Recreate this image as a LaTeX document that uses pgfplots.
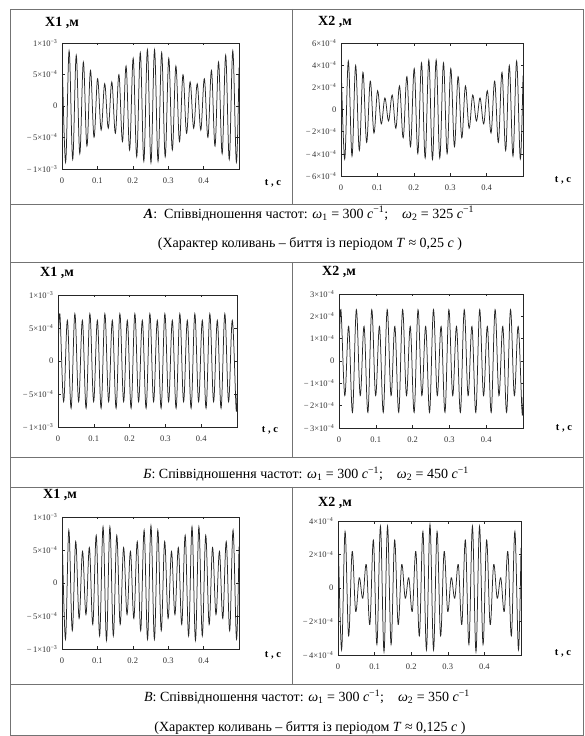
\documentclass[border=0pt]{standalone}
\usepackage{fontspec}
\setmainfont{Liberation Serif}
\usepackage{pgfplots}
\pgfplotsset{compat=1.18}
\usepackage{pgfplotstable}

% values of X1, X2 in units of 1e-4 m (extrema of the oscillations)
\pgfplotstableread{
t x1 x2
0.0000 9.00 4.50
0.0101 -8.94 -4.47
0.0201 8.76 4.37
0.0302 -8.47 -4.20
0.0402 8.06 3.97
0.0503 -7.57 -3.69
0.0603 6.98 3.35
0.0704 -6.34 -2.97
0.0804 5.65 2.56
0.0905 -4.97 -2.12
0.1005 4.33 1.69
0.1106 -3.82 -1.30
0.1206 3.53 1.04
0.1307 -3.53 -1.04
0.1407 3.82 1.30
0.1508 -4.33 -1.69
0.1608 4.97 2.12
0.1709 -5.65 -2.56
0.1810 6.34 2.97
0.1910 -6.98 -3.35
0.2011 7.57 3.69
0.2111 -8.06 -3.97
0.2212 8.47 4.20
0.2312 -8.76 -4.37
0.2413 8.94 4.47
0.2513 -9.00 -4.50
0.2614 8.94 4.47
0.2714 -8.76 -4.37
0.2815 8.47 4.20
0.2915 -8.06 -3.97
0.3016 7.57 3.69
0.3116 -6.98 -3.35
0.3217 6.34 2.97
0.3318 -5.65 -2.56
0.3418 4.97 2.12
0.3519 -4.33 -1.69
0.3619 3.82 1.30
0.3720 -3.53 -1.04
0.3820 3.53 1.04
0.3921 -3.82 -1.30
0.4021 4.33 1.69
0.4122 -4.97 -2.12
0.4222 5.65 2.56
0.4323 -6.34 -2.97
0.4423 6.98 3.35
0.4524 -7.57 -3.69
0.4624 8.06 3.97
0.4725 -8.47 -4.20
0.4825 8.76 4.37
0.4926 -8.94 -4.47
0.5000 6.10 3.06
}\tabA

\pgfplotstableread{
t x1 x2
0.0000 0.00 0.00
0.0052 7.15 2.30
0.0157 -6.15 -1.55
0.0262 6.15 1.55
0.0366 -7.15 -2.30
0.0471 7.15 2.30
0.0576 -6.15 -1.55
0.0681 6.15 1.55
0.0785 -7.15 -2.30
0.0890 7.15 2.30
0.0995 -6.15 -1.55
0.1100 6.15 1.55
0.1204 -7.15 -2.30
0.1309 7.15 2.30
0.1414 -6.15 -1.55
0.1518 6.15 1.55
0.1623 -7.15 -2.30
0.1728 7.15 2.30
0.1833 -6.15 -1.55
0.1937 6.15 1.55
0.2042 -7.15 -2.30
0.2147 7.15 2.30
0.2251 -6.15 -1.55
0.2356 6.15 1.55
0.2461 -7.15 -2.30
0.2566 7.15 2.30
0.2670 -6.15 -1.55
0.2775 6.15 1.55
0.2880 -7.15 -2.30
0.2985 7.15 2.30
0.3089 -6.15 -1.55
0.3194 6.15 1.55
0.3299 -7.15 -2.30
0.3403 7.15 2.30
0.3508 -6.15 -1.55
0.3613 6.15 1.55
0.3718 -7.15 -2.30
0.3822 7.15 2.30
0.3927 -6.15 -1.55
0.4032 6.15 1.55
0.4136 -7.15 -2.30
0.4241 7.15 2.30
0.4346 -6.15 -1.55
0.4451 6.15 1.55
0.4555 -7.15 -2.30
0.4660 7.15 2.30
0.4765 -6.15 -1.55
0.4869 6.15 1.55
0.4974 -7.15 -2.30
0.5000 -5.05 -1.63
}\tabB

\pgfplotstableread{
t x1 x2
0.0000 8.70 3.80
0.0097 -8.52 -3.69
0.0193 8.01 3.37
0.0290 -7.22 -2.86
0.0387 6.28 2.18
0.0483 -5.37 -1.40
0.0580 4.78 0.61
0.0677 -4.78 -0.61
0.0773 5.37 1.40
0.0870 -6.28 -2.18
0.0967 7.22 2.86
0.1063 -8.01 -3.37
0.1160 8.52 3.69
0.1257 -8.70 -3.80
0.1353 8.52 3.69
0.1450 -8.01 -3.37
0.1547 7.22 2.86
0.1643 -6.28 -2.18
0.1740 5.37 1.40
0.1837 -4.78 -0.61
0.1933 4.78 0.61
0.2030 -5.37 -1.40
0.2127 6.28 2.18
0.2223 -7.22 -2.86
0.2320 8.01 3.37
0.2417 -8.52 -3.69
0.2513 8.70 3.80
0.2610 -8.52 -3.69
0.2707 8.01 3.37
0.2803 -7.22 -2.86
0.2900 6.28 2.18
0.2997 -5.37 -1.40
0.3093 4.78 0.61
0.3190 -4.78 -0.61
0.3287 5.37 1.40
0.3383 -6.28 -2.18
0.3480 7.22 2.86
0.3577 -8.01 -3.37
0.3673 8.52 3.69
0.3770 -8.70 -3.80
0.3867 8.52 3.69
0.3963 -8.01 -3.37
0.4060 7.22 2.86
0.4157 -6.28 -2.18
0.4253 5.37 1.40
0.4350 -4.78 -0.61
0.4447 4.78 0.61
0.4543 -5.37 -1.40
0.4640 6.28 2.18
0.4737 -7.22 -2.86
0.4833 8.01 3.37
0.4930 -8.52 -3.69
0.5000 5.50 2.40
}\tabC

\newcommand{\E}[2]{#1\texttimes10\textsuperscript{#2}}
\newcommand{\NE}[2]{−\,#1\texttimes10\textsuperscript{#2}}

\pgfplotsset{
  osc/.style={
    scale only axis, anchor=south west,
    xmin=0, xmax=0.5,
    xtick={0,0.1,0.2,0.3,0.4},
    xticklabels={0,0.1,0.2,0.3,0.4},
    tick align=inside, tick pos=both,
    major tick length=2.5pt,
    axis line style={black!85, line width=0.6pt},
    tick style={black!85, line width=0.5pt},
    ticklabel style={font=\fontsize{8.5}{9}\selectfont, text=black!80},
    xticklabel style={yshift=-5pt},
    yticklabel style={xshift=-1pt},
  },
  curve/.style={black!85, line width=0.75pt, smooth, tension=0.6, no markers},
  x1ax/.style={ymin=-10, ymax=10, ytick={-10,-5,0,5,10},
    yticklabels={\NE{1}{−3},\NE{5}{−4},0,\E{5}{−4},\E{1}{−3}}},
}

\begin{document}
\begin{tikzpicture}[x=1pt,y=1pt]
\fill[white] (0,0) rectangle (585,736);

% table frame
\begin{scope}[draw=black!55, line width=0.8pt]
\draw (10,1) rectangle (583,727);
\draw (10,532) -- (583,532);
\draw (10,474) -- (583,474);
\draw (10,279) -- (583,279);
\draw (10,249) -- (583,249);
\draw (10,51.5) -- (583,51.5);
\draw (292,727) -- (292,532);
\draw (292,474) -- (292,279);
\draw (292,249) -- (292,51.5);
\end{scope}

% ---------- A ----------
\begin{axis}[osc, x1ax, at={(62pt,567pt)}, width=177pt, height=126pt]
\addplot[curve] table[x=t, y=x1] {\tabA};
\end{axis}
\begin{axis}[osc, at={(341pt,560pt)}, width=182pt, height=133pt,
  ymin=-6, ymax=6, ytick={-6,-4,-2,0,2,4,6},
  yticklabels={\NE{6}{−4},\NE{4}{−4},\NE{2}{−4},0,\E{2}{−4},\E{4}{−4},\E{6}{−4}}]
\addplot[curve] table[x=t, y=x2] {\tabA};
\end{axis}

% ---------- B ----------
\begin{axis}[osc, x1ax, at={(58pt,309pt)}, width=179pt, height=132pt]
\addplot[curve] table[x=t, y=x1] {\tabB};
\end{axis}
\begin{axis}[osc, at={(339pt,308pt)}, width=184pt, height=134pt,
  ymin=-3, ymax=3, ytick={-3,-2,-1,0,1,2,3},
  yticklabels={\NE{3}{−4},\NE{2}{−4},\NE{1}{−4},0,\E{1}{−4},\E{2}{−4},\E{3}{−4}}]
\addplot[curve] table[x=t, y=x2] {\tabB};
\end{axis}

% ---------- C ----------
\begin{axis}[osc, x1ax, at={(62pt,87pt)}, width=177pt, height=132pt]
\addplot[curve] table[x=t, y=x1] {\tabC};
\end{axis}
\begin{axis}[osc, at={(338pt,81pt)}, width=183pt, height=134pt,
  ymin=-4, ymax=4, ytick={-4,-2,0,2,4},
  yticklabels={\NE{4}{−4},\NE{2}{−4},0,\E{2}{−4},\E{4}{−4}}]
\addplot[curve] table[x=t, y=x2] {\tabC};
\end{axis}

% titles
\begin{scope}[every node/.style={anchor=west, inner sep=0pt, font=\fontsize{14}{15}\selectfont\bfseries}]
\node at (45,713) {X1\ ,м};
\node at (318,714) {X2\ ,м};
\node at (40,463) {X1\ ,м};
\node at (322,464) {X2\ ,м};
\node at (43,241) {X1\ ,м};
\node at (318,233) {X2\ ,м};
\end{scope}
\begin{scope}[every node/.style={inner sep=0pt, font=\fontsize{10.5}{11}\selectfont\bfseries}]
\node at (273,553) {t , c};
\node at (563,556) {t , c};
\node at (270,306) {t , c};
\node at (564,308) {t , c};
\node at (273,81) {t , c};
\node at (563,83) {t , c};
\end{scope}

% captions
\begin{scope}[every node/.style={inner sep=0pt, font=\fontsize{14}{16}\selectfont}]
\node at (309,522.3) {\textbf{\textit{А}}:\ \ Співвідношення частот: \textit{ω}\textsubscript{1}~=~300~\textit{c}\textsuperscript{−1};\quad \textit{ω}\textsubscript{2}~=~325~\textit{c}\textsuperscript{−1}};
\node at (310,492.5) {(Характер коливань – биття із періодом \textit{T}~≈~0,25~\textit{c}~)};
\node at (306,262) {\textit{Б}: Співвідношення частот: \textit{ω}\textsubscript{1}~=~300~\textit{c}\textsuperscript{−1};\quad \textit{ω}\textsubscript{2}~=~450~\textit{c}\textsuperscript{−1}};
\node at (307,39) {\textit{В}: Співвідношення частот: \textit{ω}\textsubscript{1}~=~300~\textit{c}\textsuperscript{−1};\quad \textit{ω}\textsubscript{2}~=~350~\textit{c}\textsuperscript{−1}};
\node at (310,8) {(Характер коливань – биття із періодом \textit{T}~≈~0,125~\textit{c}~)};
\end{scope}

\pgfresetboundingbox
\useasboundingbox (0,0) rectangle (585,736);
\end{tikzpicture}
\end{document}
